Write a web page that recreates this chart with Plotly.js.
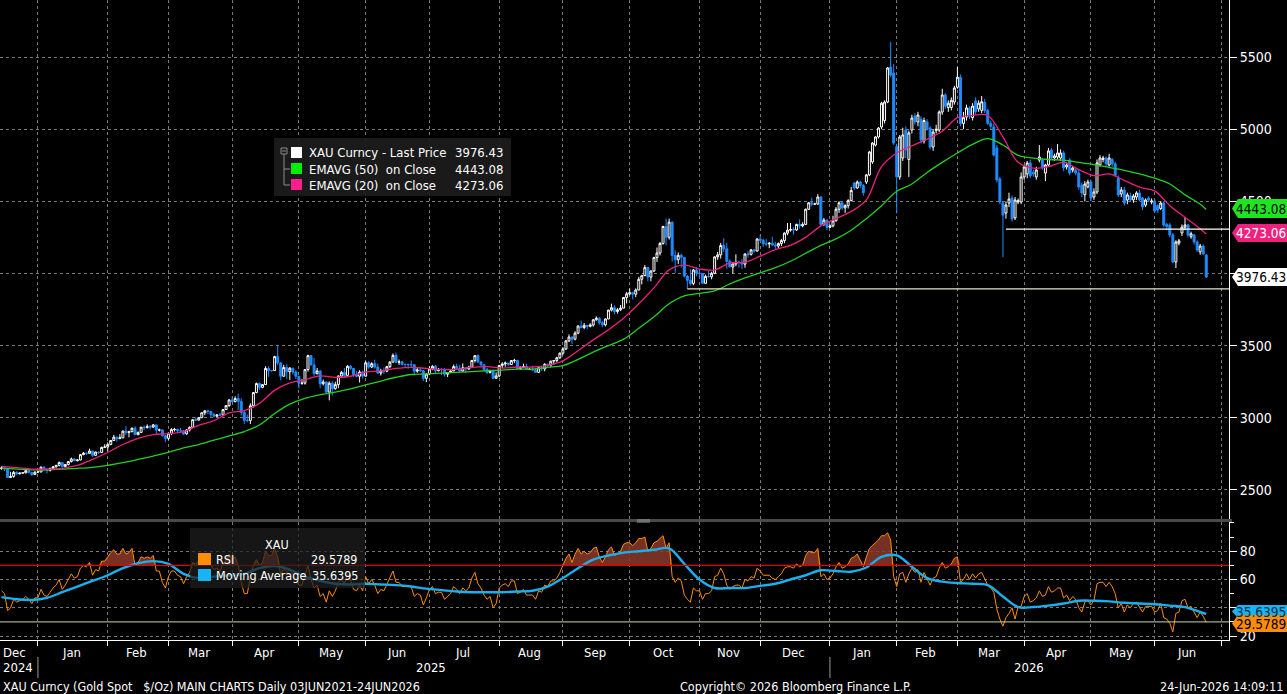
<!DOCTYPE html>
<html><head><meta charset="utf-8">
<script src="https://cdn.plot.ly/plotly-3.0.1.min.js"></script>
<style>html,body{margin:0;padding:0;background:#000;overflow:hidden}#chart{width:1287px;height:694px}</style>
</head><body><div id="chart"></div>
<script>
// ---------- DATA (daily, one value per trading weekday from 16 Dec 2024 to 24 Jun 2026) ----------
const firstDay = '2024-12-16';
const open = [
2648,2652,2646,2586,2594,2622,2612,2617,2619,2634,2621,2607,
2624,2625,2658,2640,2636,2649,2661,2670,2690,2663,2677,2697,2715,2703,2708,2745,2755,2754,2770,2740,2763,2760,2795,
2798,2815,2843,2866,2856,2861,2908,2898,2904,2928,2883,2899,2935,2933,2939,2936,2951,2915,2916,2876,
2858,2893,2918,2920,2911,2910,2889,2916,2934,2987,2984,3001,3035,3048,3044,3023,3011,3020,3019,3057,3085,
3124,3113,3134,3114,3037,2982,2982,3083,3175,3237,3211,3230,3342,3327,3327,3424,3381,3288,3349,3319,3344,3317,
3288,3239,3240,3334,3431,3366,3306,3325,3236,3248,3178,3240,3202,3230,3289,3315,3294,3357,3343,3300,3288,3317,
3289,3381,3352,3375,3352,3310,3326,3323,3355,3386,3433,3385,3388,3370,3370,3368,3368,3323,3332,3327,3274,
3303,3339,3357,3326,3337,3336,3302,3313,3325,3355,3343,3324,3347,3338,3350,3397,3431,3387,3368,3336,3314,3326,3274,
3290,3363,3373,3380,3369,3397,3398,3341,3348,3356,3335,3336,3332,3315,3347,3339,3371,3365,3393,3397,3416,
3448,3477,3533,3560,3545,3587,3636,3626,3641,3634,3643,3679,3690,3659,3644,3685,3746,3763,3736,3749,3760,3834,
3859,3866,3857,3886,3960,3985,4041,3975,4017,4110,4142,4208,4326,4251,4356,4125,4095,4126,4112,3982,3952,3931,4024,
4002,4001,3932,3980,3977,4001,4115,4129,4194,4171,4084,4045,4066,4078,4077,4065,4135,4131,4164,4156,
4239,4230,4205,4205,4210,4198,4190,4208,4228,4280,4300,4305,4302,4340,4330,4340,4445,4490,4480,4482,4530,4340,4370,
4320,4330,4365,4445,4490,4455,4470,4505,4627,4593,4634,4610,4634,4683,4773,4890,4946,5015,5060,5188,5431,5389,
4880,4669,4800,4994,4790,4994,5091,5050,5070,4918,5050,5008,4877,4990,4994,5119,5237,5150,5150,5188,
5290,5360,5040,5084,5147,5080,5196,5140,5130,5185,5130,5040,5015,4870,4655,4488,4419,4488,4523,4385,4495,4495,
4669,4690,4766,4700,4669,4786,4786,4696,4752,4856,4800,4807,4800,4835,4738,4786,4717,4717,4696,4613,4546,4600,
4634,4530,4565,4752,4790,4800,4752,4790,4760,4662,4551,4579,4509,4537,4510,4530,4558,4523,4474,4523,4495,
4502,4470,4450,4488,4340,4336,4267,4080,4210,4281,4320,4336,4255,4267,4218,4150,4190,4128];
const high = [
2665,2655,2652,2626,2632,2630,2620,2622,2638,2637,2625,2629,
2630,2663,2665,2650,2655,2665,2675,2697,2692,2680,2700,2725,2720,2712,2748,2763,2760,2786,2772,2765,2767,2800,2817,
2830,2845,2882,2870,2886,2911,2942,2910,2933,2942,2905,2938,2947,2955,2950,2956,2953,2925,2920,2880,
2895,2928,2930,2925,2930,2915,2922,2940,2990,3005,3002,3038,3055,3057,3047,3036,3025,3033,3059,3087,3128,
3149,3149,3168,3136,3055,3023,3100,3178,3245,3245,3234,3357,3357,3330,3430,3500,3386,3367,3371,3352,3345,3330,
3291,3270,3336,3437,3435,3415,3345,3330,3265,3253,3252,3253,3250,3295,3325,3345,3365,3365,3345,3325,3330,3327,
3392,3392,3385,3403,3375,3340,3349,3360,3393,3446,3452,3404,3395,3375,3375,3398,3370,3347,3350,3330,3310,
3358,3365,3366,3345,3343,3345,3317,3330,3369,3375,3366,3377,3352,3361,3402,3434,3439,3393,3373,3345,3334,3334,3315,
3363,3385,3390,3382,3400,3409,3400,3358,3375,3375,3346,3358,3345,3350,3351,3378,3375,3393,3398,3423,3453,
3490,3540,3578,3563,3600,3640,3674,3657,3642,3655,3685,3703,3697,3671,3688,3749,3791,3779,3761,3782,3834,3872,
3895,3875,3897,3977,3990,4059,4045,4022,4116,4180,4218,4330,4381,4381,4360,4161,4146,4137,4112,3990,4030,4030,4045,
4030,4002,3992,4019,4012,4120,4149,4212,4245,4211,4098,4080,4133,4090,4100,4140,4155,4170,4168,4245,
4265,4240,4240,4215,4255,4220,4215,4240,4285,4350,4350,4320,4345,4375,4355,4450,4495,4525,4490,4550,4535,4385,4375,
4340,4400,4460,4500,4500,4480,4515,4600,4635,4645,4640,4620,4690,4850,4910,4950,5015,5190,5200,5430,5604,5450,
4900,4960,5010,5020,4990,5100,5110,5120,5090,5080,5070,5020,5000,5030,5130,5280,5250,5200,5220,5300,
5431,5380,5120,5170,5160,5180,5220,5200,5230,5210,5140,5060,5040,4890,4670,4500,4500,4560,4540,4530,4520,4700,
4750,4780,4790,4720,4740,4890,4800,4760,4870,4870,4830,4897,4860,4850,4770,4800,4745,4730,4720,4630,4640,4650,
4650,4590,4790,4820,4815,4810,4830,4800,4775,4680,4600,4600,4560,4560,4550,4570,4580,4530,4520,4535,4520,
4510,4480,4500,4500,4350,4350,4280,4230,4240,4340,4390,4345,4290,4275,4230,4205,4200,4135];
const low = [
2640,2631,2583,2583,2585,2604,2608,2614,2615,2616,2596,2605,
2620,2622,2635,2615,2628,2643,2655,2663,2656,2660,2670,2690,2700,2698,2705,2741,2742,2750,2730,2735,2750,2757,2790,
2772,2810,2840,2834,2852,2860,2880,2865,2900,2880,2880,2896,2915,2925,2920,2930,2890,2905,2870,2832,
2845,2880,2905,2895,2895,2880,2882,2905,2932,2978,2982,2998,3018,3026,2999,3002,3006,3012,3015,3054,3076,
3105,3106,3055,3016,2957,2970,2957,3072,3170,3193,3205,3228,3284,3320,3325,3367,3260,3287,3268,3263,3300,3268,
3202,3229,3230,3320,3365,3290,3300,3207,3225,3172,3121,3154,3195,3205,3285,3277,3290,3335,3285,3280,3245,3272,
3285,3340,3345,3340,3306,3293,3305,3315,3345,3385,3380,3367,3362,3347,3340,3347,3295,3312,3317,3255,3248,
3296,3330,3311,3322,3296,3287,3282,3310,3322,3341,3320,3319,3310,3334,3344,3383,3381,3351,3325,3302,3307,3268,3272,
3281,3346,3354,3357,3368,3380,3341,3331,3345,3331,3331,3323,3311,3312,3325,3322,3352,3351,3370,3384,3408,
3436,3470,3525,3511,3537,3579,3620,3614,3613,3627,3632,3673,3645,3628,3633,3684,3737,3717,3722,3740,3759,3793,
3849,3820,3836,3884,3925,3982,3945,3946,4010,4080,4125,4200,4195,4235,4082,4004,4066,4040,3972,3893,3917,3918,3980,
3970,3928,3930,3973,3960,3995,4095,4103,4150,4032,4045,4000,4050,4040,4030,4040,4110,4125,4145,4150,
4225,4185,4190,4175,4190,4170,4170,4190,4210,4265,4290,4270,4295,4310,4320,4338,4440,4465,4475,4475,4330,4330,4300,
4315,4320,4360,4420,4440,4420,4450,4500,4580,4585,4590,4540,4620,4675,4760,4880,4935,5000,5040,5180,5360,4890,
4417,4650,4780,4800,4669,4970,5030,5020,4900,4900,4990,4860,4850,4970,4980,5100,5140,5120,5130,5170,
5280,5020,5000,5060,5070,5060,5100,5120,5110,5110,5030,5000,4810,4630,4480,4114,4380,4460,4360,4370,4480,4480,
4650,4660,4660,4670,4650,4770,4720,4640,4740,4790,4780,4790,4780,4710,4720,4680,4700,4680,4580,4530,4500,4590,
4500,4510,4550,4740,4770,4740,4740,4740,4670,4530,4530,4470,4480,4500,4490,4510,4500,4440,4460,4500,4480,
4420,4420,4440,4320,4300,4250,4070,4038,4195,4260,4300,4250,4240,4200,4150,4130,4130,3970];
const close = [
2652,2646,2586,2594,2622,2612,2617,2619,2634,2621,2607,2624,
2625,2658,2640,2636,2649,2661,2670,2690,2663,2677,2697,2715,2703,2708,2745,2755,2754,2770,2740,2763,2760,2795,2798,
2815,2843,2866,2856,2861,2908,2898,2904,2928,2883,2899,2935,2933,2939,2936,2951,2915,2916,2876,2858,
2893,2918,2920,2911,2910,2889,2916,2934,2987,2984,3001,3035,3048,3044,3023,3011,3020,3019,3057,3085,3124,
3113,3134,3114,3037,2982,2982,3083,3175,3237,3211,3230,3342,3327,3327,3424,3381,3288,3349,3319,3344,3317,3288,
3239,3240,3334,3431,3366,3306,3325,3236,3248,3178,3240,3202,3230,3289,3315,3294,3357,3343,3300,3288,3317,3289,
3381,3352,3375,3352,3310,3326,3323,3355,3386,3433,3385,3388,3370,3370,3368,3368,3323,3332,3327,3274,3303,
3339,3357,3326,3337,3336,3302,3313,3325,3355,3343,3324,3347,3338,3350,3397,3431,3387,3368,3336,3314,3326,3274,3290,
3363,3373,3380,3369,3397,3398,3341,3348,3356,3335,3336,3332,3315,3347,3339,3371,3365,3393,3397,3416,3448,
3477,3533,3560,3545,3587,3636,3626,3641,3634,3643,3679,3690,3659,3644,3685,3746,3763,3736,3749,3760,3834,3859,
3866,3857,3886,3960,3985,4041,3975,4017,4110,4142,4208,4326,4251,4356,4125,4095,4126,4112,3982,3952,3931,4024,4002,
4001,3932,3980,3977,4001,4115,4129,4194,4171,4084,4045,4066,4078,4077,4065,4135,4131,4164,4156,4239,
4230,4205,4205,4210,4198,4190,4208,4228,4280,4300,4305,4302,4340,4330,4340,4445,4490,4480,4482,4530,4340,4370,4320,
4330,4365,4445,4490,4455,4470,4505,4575,4593,4634,4610,4560,4683,4842,4904,4946,5008,5180,5188,5424,5375,4904,
4669,4946,4960,4856,4974,5077,5050,5098,4925,5060,5000,4877,4980,5000,5119,5237,5160,5180,5200,5285,
5360,5040,5080,5147,5090,5160,5120,5180,5190,5130,5040,5020,4821,4648,4495,4405,4474,4516,4377,4509,4505,4669,
4738,4766,4676,4690,4717,4807,4738,4752,4849,4800,4815,4835,4835,4731,4752,4696,4731,4696,4600,4558,4620,4634,
4523,4565,4766,4800,4800,4760,4800,4760,4680,4544,4579,4488,4544,4510,4537,4558,4510,4461,4509,4509,4502,
4433,4440,4488,4336,4325,4267,4080,4218,4226,4322,4336,4267,4275,4218,4163,4190,4135,3976.43];

// RSI (daily)
const rsi = [
52,50,38,40,46,44,45,46,48,46, 43,47,47,53,49,48,51,54,56,60, 53,56,60,64,61,62,68,70,69,72,
63,67,66,73,73,76,79,81,78,78, 82,78,79,82,70,72,76,75,76,75, 77,66,66,58,54,62,66,66,63,62,
57,62,65,72,71,73,76,78,76,70, 67,68,66,71,74,78,74,76,70,58, 50,50,62,70,74,70,72,80,77,77,
82,76,63,68,65,67,64,60,56,56, 63,70,60,54,56,48,50,44,52,48, 52,58,60,57,63,60,53,52,56,52,
62,57,60,56,50,53,52,57,61,66, 58,58,55,55,55,55,48,50,49,42, 47,53,55,50,51,51,46,48,50,55,
53,50,54,52,54,61,65,57,54,49, 46,48,40,43,54,56,57,55,59,59, 50,51,53,49,49,49,46,52,51,56,
55,59,59,61,65,70,75,78,72,78, 82,78,80,78,79,82,83,76,72,76, 81,83,77,78,80,85,86,86,84,86,
89,89,90,80,82,86,87,89,91,82, 86,62,58,61,59,49,46,44,54,52, 52,46,50,50,52,62,63,68,64,56,
53,55,56,56,54,60,59,62,61,68, 66,63,63,63,61,60,62,64,68,69, 69,68,71,69,70,77,80,79,79,82,
62,64,60,61,64,69,72,68,69,71, 75,76,78,74,69,76,82,84,86,88, 91,91,93,88,62,55,64,65,58,64,
68,65,67,58,65,61,56,61,62,68, 72,68,69,71,75,76,58,60,64,60, 64,61,64,65,60,56,54,51,39,32,
27,33,36,40,32,41,41,48,50,44, 45,47,52,48,49,55,51,52,54,54, 47,49,45,48,46,40,37,44,45,42,
45,57,58,58,55,58,55,50,40,43, 37,42,40,43,44,40,37,41,41,41, 37,38,43,33,32,29,23,36,37,45,
46,40,41,37,33,37,34,29.5789];

// Smooth lines read every 5th trading day (day 0,5,...,395) plus the last day
const ema50 = [2652,2645,2640,2640,2645,2650,2657,2670,2690,2712,2735,2760,2792,2815,2845,2875,2905,2950,3030,3095,
3135,3160,3178,3200,3228,3255,3281,3300,3304,3310,3315,3320,3326,3331,3338,3338,3350,3362,3405,3455,
3500,3545,3620,3700,3790,3845,3862,3880,3928,3970,4004,4040,4085,4140,4195,4240,4300,4380,4470,4570,
4620,4700,4770,4835,4895,4935,4890,4818,4800,4790,4785,4770,4755,4735,4715,4690,4660,4620,4545,4480,4443.08];
const ema20 = [2664,2655,2645,2644,2650,2670,2712,2760,2815,2858,2884,2890,2905,2948,2980,3035,3050,3100,3190,3242,
3265,3290,3280,3288,3316,3325,3342,3350,3342,3334,3336,3350,3355,3345,3352,3352,3364,3395,3465,3540,
3610,3690,3790,3900,4025,4058,4031,4025,4073,4078,4120,4165,4195,4250,4330,4380,4430,4510,4740,4835,
4885,4930,4985,5080,5095,5095,4946,4770,4730,4740,4770,4720,4678,4690,4645,4598,4572,4470,4390,4310,4273.06];
const rsiMA = [47.5,46,45.5,47,51,55,59,63,68,71.5,73,71,64,61,62,63,64,68,69.5,67,
62,59,57,56.5,57,56.5,56,55,53.5,52.5,51.5,51,51,51,51.5,52,55,61,68,74,
77,79,80,81,82,71,60,54,54,54,55.5,57,60,63,66.5,66,65.5,68.5,76,77,
69,61,58.5,57.5,57,56,48,40.5,40.5,41.5,43,45,45,44.5,43.5,43,42.5,41.5,40.5,37,35.6395];

const supportLevel = 3893, supportFrom = '2025-10-28';
const resistLevel = 4308, resistFrom = '2026-03-24';
const monthNames = ['Jan','Feb','Mar','Apr','May','Jun','Jul','Aug','Sep','Oct','Nov','Dec'];

// ---------- build trading-day axis ----------
function weekdays(start, endStr){const out=[];const d=new Date(start+'T00:00:00Z');const e=new Date(endStr+'T00:00:00Z');while(d<=e){const w=d.getUTCDay();if(w!==0&&w!==6)out.push(d.toISOString().slice(0,10));d.setUTCDate(d.getUTCDate()+1);}return out;}
const axisDays = weekdays(firstDay,'2026-07-31');
const dates = axisDays.slice(0, close.length);
const indIdx = ema50.map((_,k)=> k < ema50.length-1 ? k*5 : close.length-1);
const indX = indIdx.map(i=>dates[i]);

// ---------- geometry helpers (plot area = 1229 x 640 px) ----------
const PW = 1229, PH = 640;
const px = x => x/PW, py = y => 1 - y/PH;
const F = "'DejaVu Sans Condensed','DejaVu Sans',sans-serif";
const GRID = '#7a7a7a';

const traces = [
 {type:'candlestick', x:dates, open, high, low, close, xaxis:'x', yaxis:'y', hoverinfo:'skip',
  whiskerwidth:0,
  increasing:{line:{color:'#ffffff',width:1}, fillcolor:'#000000'},
  decreasing:{line:{color:'#1e8cff',width:1}, fillcolor:'#1e8cff'}, showlegend:false},
 {type:'scatter', mode:'lines', x:indX, y:ema50, line:{color:'#22d022',width:1.3,shape:'spline'}, xaxis:'x', yaxis:'y', hoverinfo:'skip', showlegend:false},
 {type:'scatter', mode:'lines', x:indX, y:ema20, line:{color:'#e8207c',width:1.3,shape:'spline'}, xaxis:'x', yaxis:'y', hoverinfo:'skip', showlegend:false},
 // RSI overbought fill (area between the 70 line and the RSI where RSI > 70)
 {type:'scatter', mode:'lines', x:dates, y:dates.map(()=>70), line:{width:0,color:'rgba(0,0,0,0)'}, xaxis:'x', yaxis:'y2', hoverinfo:'skip', showlegend:false},
 {type:'scatter', mode:'lines', x:dates, y:rsi.map(v=>Math.max(v,70)), line:{width:0,color:'rgba(0,0,0,0)'}, fill:'tonexty', fillcolor:'rgba(140,58,42,0.85)', xaxis:'x', yaxis:'y2', hoverinfo:'skip', showlegend:false},
 {type:'scatter', mode:'lines', x:dates, y:rsi, line:{color:'#ff8c00',width:1}, xaxis:'x', yaxis:'y2', hoverinfo:'skip', showlegend:false},
 {type:'scatter', mode:'lines', x:indX, y:rsiMA, line:{color:'#19b0f0',width:2.4,shape:'spline'}, xaxis:'x', yaxis:'y2', hoverinfo:'skip', showlegend:false}
];

const shapes = [];
const annotations = [];
function txt(x,y,text,o={}){annotations.push(Object.assign({xref:'paper',yref:'paper',x:px(x),y:py(y),text,showarrow:false,xanchor:'left',yanchor:'middle',font:{family:F,size:13,color:'#ffffff'}},o));}
function rect(x0,y0,x1,y1,fill,line){shapes.push({type:'rect',xref:'paper',yref:'paper',x0:px(x0),x1:px(x1),y0:py(y1),y1:py(y0),fillcolor:fill,line:{width:line?1:0,color:line||fill},layer:'above'});}
function seg(x0,y0,x1,y1,color,w=1){shapes.push({type:'line',xref:'paper',yref:'paper',x0:px(x0),x1:px(x1),y0:py(y0),y1:py(y1),line:{color,width:w},layer:'above'});}
function tagBox(y0,y1,fill,text,tcolor){
  const x0=1232,x1=1287,tip=6,ym=(y0+y1)/2;
  shapes.push({type:'path',xref:'paper',yref:'paper',layer:'above',fillcolor:fill,line:{width:0},
   path:`M${px(x0)},${py(ym)} L${px(x0+tip)},${py(y0)} L${px(x1)},${py(y0)} L${px(x1)},${py(y1)} L${px(x0+tip)},${py(y1)} Z`});
  txt(1261,ym,text,{xanchor:'center',font:{family:F,size:13.5,color:tcolor}});
}

// level lines
shapes.push({type:'line',xref:'x',yref:'y',x0:supportFrom,x1:'2026-07-06',y0:supportLevel,y1:supportLevel,line:{color:'#e6e6c8',width:1.2}});
shapes.push({type:'line',xref:'x',yref:'y',x0:resistFrom,x1:'2026-07-06',y0:resistLevel,y1:resistLevel,line:{color:'#ffffff',width:1.2}});
// RSI 70 / 30 lines
shapes.push({type:'line',xref:'paper',yref:'y2',x0:0,x1:1,y0:70,y1:70,line:{color:'#e00000',width:1.2}});
shapes.push({type:'line',xref:'paper',yref:'y2',x0:0,x1:1,y0:30,y1:30,line:{color:'#c8d8b0',width:1}});

// panel separator
rect(0,519,1232,522,'#4a4a4a');
seg(637,520,650,520,'#9a9a9a',1); seg(637,522,650,522,'#9a9a9a',1);

// right tag boxes
tagBox(199,218,'#1ee61e','4443.08','#000000');
tagBox(224,242,'#f0207e','4273.06','#ffffff');
tagBox(268,286,'#ffffff','3976.43','#000000');
tagBox(605,618,'#19b4f5','35.6395','#003040');
tagBox(615,632,'#ff8c0a','29.5789','#000000');

// main legend
rect(274,138,511,196,'rgba(28,28,28,0.92)');
rect(281,148,287,154,'rgba(0,0,0,0)','#8a8a8a');
seg(284,154,284,185,'#8a8a8a'); seg(284,169,290,169,'#8a8a8a'); seg(284,185,290,185,'#8a8a8a');
seg(282,151,286,151,'#8a8a8a');
rect(291,147,302,158,'#ffffff');
rect(291,163,302,174,'#00ee00');
rect(291,179,302,190,'#ff1e8c');
txt(307,152.5,'XAU Curncy - Last Price');
txt(505,152.5,'3976.43',{xanchor:'right'});
txt(307,169,'EMAVG (50)\u00a0\u00a0on Close');
txt(505,169,'4443.08',{xanchor:'right'});
txt(307,185,'EMAVG (20)\u00a0\u00a0on Close');
txt(505,185,'4273.06',{xanchor:'right'});

// RSI legend
const LF = {family:F,size:12.5,color:'#ffffff'};
rect(190,528,365,588,'rgba(30,30,30,0.72)');
txt(277,544,'XAU',{xanchor:'center',font:LF});
rect(198,553,211,565,'#ff8c0a');
rect(198,569,211,581,'#19b4f5');
txt(214,559,'RSI',{font:LF});
txt(360,559,'29.5789',{xanchor:'right',font:LF});
txt(214,575,'Moving Average',{font:LF});
txt(361,575,'35.6395',{xanchor:'right',font:LF});

// month labels (centred within each month) and years
for(let y=2025;y<=2026;y++){
  for(let m=0;m<12;m++){
    if(y===2026 && m>5) break;
    const mm=String(m+1).padStart(2,'0');
    const inMonth=axisDays.map((d,i)=>[d,i]).filter(([d])=>d.startsWith(y+'-'+mm));
    const c=(inMonth[0][1]+inMonth[inMonth.length-1][1])/2;
    const base=axisDays[Math.floor(c)];
    const xd = (c%1)? base+' 12:00' : base;
    annotations.push({xref:'x',yref:'paper',x:xd,y:py(652),text:monthNames[m],showarrow:false,xanchor:'center',yanchor:'middle',font:{family:F,size:13,color:'#ffffff'}});
  }
}
txt(1,652,'Dec');
txt(1,667,'2024');
annotations.push({xref:'x',yref:'paper',x:'2025-07-01 12:00',y:py(667),text:'2025',showarrow:false,xanchor:'center',yanchor:'middle',font:{family:F,size:13,color:'#ffffff'}});
annotations.push({xref:'x',yref:'paper',x:'2026-04-02 12:00',y:py(667),text:'2026',showarrow:false,xanchor:'center',yanchor:'middle',font:{family:F,size:13,color:'#ffffff'}});
['2025-01-01','2026-01-01'].forEach(d=>shapes.push({type:'line',xref:'x',yref:'paper',x0:d,x1:d,y0:py(657),y1:py(678),line:{color:'#9a9a9a',width:1}}));

// footer
txt(1,686,'XAU Curncy (Gold Spot\u00a0\u00a0\u00a0$/Oz) MAIN CHARTS Daily 03JUN2021-24JUN2026',{font:{family:F,size:12.5,color:'#ffffff'}});
txt(678,686,'Copyright\u00a9 2026 Bloomberg Finance L.P.',{font:{family:F,size:12.5,color:'#ffffff'}});
txt(1285,686,'24-Jun-2026 14:09:11',{xanchor:'right',font:{family:F,size:12.5,color:'#ffffff'}});

const layout = {
  width:1287, height:694, paper_bgcolor:'#000000', plot_bgcolor:'#000000',
  margin:{l:0,r:58,t:0,b:54}, showlegend:false, dragmode:false, boxgap:0.08,
  xaxis:{type:'date', range:['2024-12-13 12:00','2026-07-03 12:00'], rangebreaks:[{bounds:['sat','mon']}],
    anchor:'y2', showgrid:true, gridcolor:GRID, griddash:'3px,3px', gridwidth:1,
    dtick:'M1', tick0:'2025-01-01', ticks:'outside', ticklen:5, tickcolor:'#ffffff',
    showticklabels:false, showline:true, linecolor:'#ffffff', linewidth:1,
    rangeslider:{visible:false}, zeroline:false, fixedrange:true},
  yaxis:{domain:[0.1875,1], range:[2292,5895], side:'right', tickvals:[2500,3000,3500,4000,4500,5000,5500],
    ticktext:['2500','3000','3500','','4500','5000','5500'],
    showgrid:true, gridcolor:GRID, griddash:'3px,3px', ticks:'outside', ticklen:7, tickcolor:'#ffffff',
    showline:true, linecolor:'#ffffff', linewidth:1, zeroline:false,
    tickfont:{family:F,size:14,color:'#ffffff'}, fixedrange:true},
  yaxis2:{domain:[0,0.184], range:[17.2,100.5], side:'right', tickvals:[20,40,60,80], ticktext:['20','','60','80'],
    minor:{dtick:10, ticklen:4, tickcolor:'#ffffff', ticks:'outside', showgrid:false},
    showgrid:true, gridcolor:GRID, griddash:'3px,3px', ticks:'outside', ticklen:7, tickcolor:'#ffffff',
    showline:true, linecolor:'#ffffff', linewidth:1, zeroline:false,
    tickfont:{family:F,size:14,color:'#ffffff'}, fixedrange:true},
  shapes, annotations
};
Plotly.newPlot('chart', traces, layout, {staticPlot:true, displayModeBar:false});
</script></body></html>
